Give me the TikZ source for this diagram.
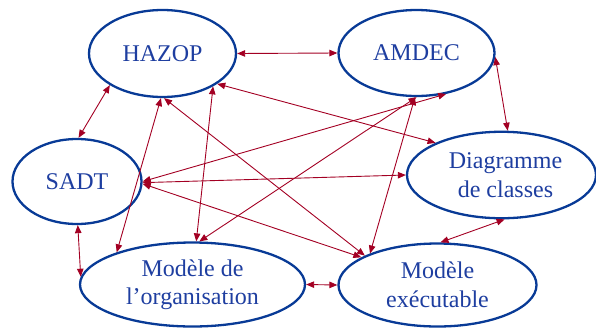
\documentclass[tikz,border=0pt]{standalone}
\usepackage{fontspec}
\setmainfont{Liberation Serif}
\usetikzlibrary{shapes.geometric,arrows.meta}
\definecolor{ellblue}{RGB}{8,58,150}
\definecolor{txtblue}{RGB}{30,62,160}
\definecolor{arrred}{RGB}{163,0,35}
\tikzset{
  blob/.style={ellipse, draw=ellblue, line width=2.3pt, text=txtblue, inner sep=0pt,
    font=\fontsize{24}{28.5}\selectfont, align=center},
  link/.style={draw=arrred, line width=0.9pt,
    {Triangle[length=8pt,width=6.5pt]}-{Triangle[length=8pt,width=6.5pt]}}
}
\begin{document}
\begin{tikzpicture}[x=1pt,y=-1pt]
\useasboundingbox (0,0) rectangle (596,327);
\node[blob, minimum width=147pt, minimum height=87pt] (H) at (162.5,53.5) {HAZOP};
\node[blob, minimum width=156pt, minimum height=86pt] (A) at (416.5,53) {AMDEC};
\node[blob, minimum width=189pt, minimum height=86.5pt] (D) at (501.5,175) {\hspace*{8pt}Diagramme\\\hspace*{8pt}de classes};
\node[blob, minimum width=129pt, minimum height=85pt] (S) at (77,181.5) {SADT};
\node[blob, minimum width=225pt, minimum height=84pt] (O) at (192.5,284.5) {Modèle de\\l’organisation};
\node[blob, minimum width=198pt, minimum height=83pt] (E) at (437.5,285) {Modèle\\exécutable};

\draw[link] (H.east) -- (A.west);
\draw[link] (H.211.8) -- (S.88.7);
\draw[link] (H.331.6) -- (D.154.5);
\draw[link] (H.268) -- (O.157.2);
\draw[link] (H.327.2) -- (O.85.4);
\draw[link] (H.272) -- (E.158);
\draw[link] (A.357) -- (D.82);
\draw[link] (A.306) -- (S.0);
\draw[link] (A.270.5) -- (O.81);
\draw[link] (A.268) -- (E.155);
\draw[link] (S.359) -- (D.180);
\draw[link] (S.358) -- (E.160);
\draw[link] (S.271.3) -- (O.176.7);
\draw[link] (O.east) -- (E.west);
\draw[link] (D.274) -- (E.86.5);
\end{tikzpicture}
\end{document}
